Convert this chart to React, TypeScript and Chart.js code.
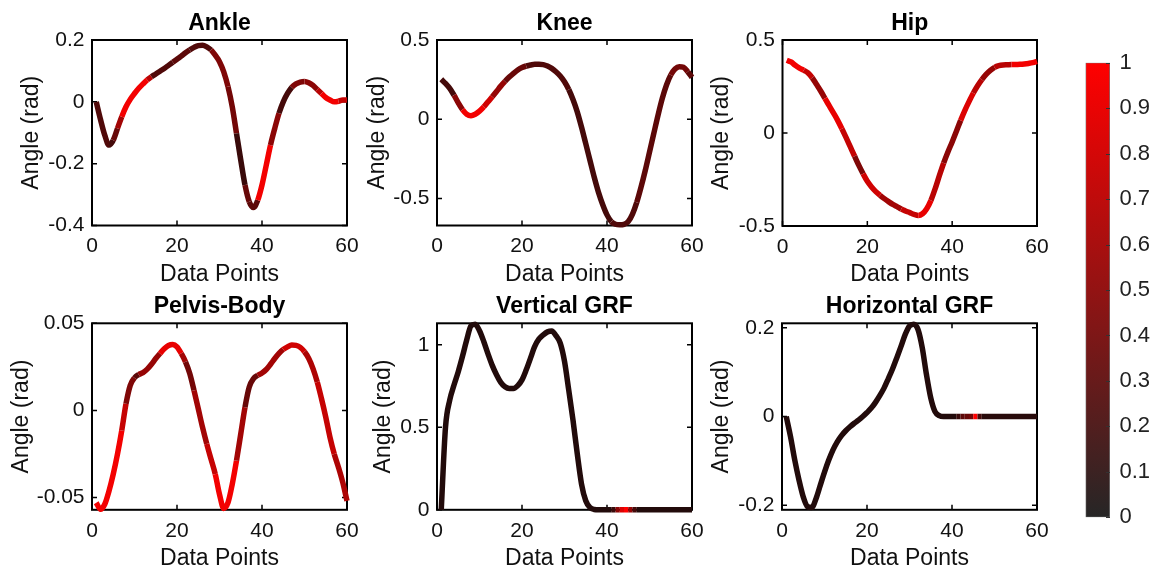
import React, { useEffect, useRef } from "react";
import { Chart, registerables } from "chart.js";

Chart.register(...registerables);

const FONT = "'Liberation Sans', Arial, Helvetica, sans-serif";
Chart.defaults.font.family = FONT;

// ---------- data ----------
const dataPoints = [
  1, 2, 3, 4, 5, 6, 7, 8, 9, 10, 11, 12, 13, 14, 15, 16, 17, 18, 19, 20,
  21, 22, 23, 24, 25, 26, 27, 28, 29, 30, 31, 32, 33, 34, 35, 36, 37, 38, 39, 40,
  41, 42, 43, 44, 45, 46, 47, 48, 49, 50, 51, 52, 53, 54, 55, 56, 57, 58, 59, 60,
];

const xTicks = [0, 20, 40, 60];

const ankleValues = [
  0.0, -0.057, -0.108, -0.14, -0.124, -0.086, -0.048, -0.016, 0.008, 0.027,
  0.044, 0.058, 0.071, 0.081, 0.09, 0.099, 0.108, 0.118, 0.128, 0.138,
  0.148, 0.159, 0.168, 0.176, 0.182, 0.183, 0.178, 0.168, 0.151, 0.13,
  0.097, 0.049, -0.016, -0.102, -0.188, -0.269, -0.323, -0.342, -0.318, -0.269,
  -0.205, -0.14, -0.086, -0.037, 0.0, 0.027, 0.047, 0.058, 0.064, 0.066,
  0.062, 0.053, 0.04, 0.027, 0.014, 0.006, 0.0, 0.002, 0.006, 0.006,
];
const ankleColors = [
  0.25, 0.25, 0.25, 0.2, 0.35, 0.6, 0.95, 0.95, 0.95, 0.95,
  0.95, 0.95, 0.7, 0.25, 0.25, 0.25, 0.25, 0.25, 0.3, 0.3,
  0.3, 0.3, 0.25, 0.25, 0.25, 0.25, 0.25, 0.45, 0.45, 0.45,
  0.45, 0.4, 0.4, 0.15, 0.15, 0.35, 0.3, 0.3, 0.95, 0.95,
  0.95, 0.5, 0.5, 0.2, 0.2, 0.2, 0.45, 0.45, 0.45, 0.5,
  0.5, 0.5, 0.7, 0.95, 0.95, 0.95, 0.95, 0.75, 0.75, 0.75,
];
const ankleTicks = [-0.4, -0.2, 0, 0.2];

const kneeValues = [
  0.252, 0.226, 0.195, 0.152, 0.104, 0.061, 0.032, 0.023, 0.032, 0.051,
  0.078, 0.11, 0.142, 0.175, 0.209, 0.239, 0.266, 0.29, 0.311, 0.326,
  0.336, 0.342, 0.347, 0.347, 0.345, 0.336, 0.321, 0.3, 0.273, 0.237,
  0.188, 0.125, 0.047, -0.049, -0.154, -0.26, -0.366, -0.461, -0.539, -0.603,
  -0.645, -0.662, -0.666, -0.663, -0.645, -0.598, -0.524, -0.429, -0.323, -0.207,
  -0.091, 0.025, 0.131, 0.216, 0.279, 0.317, 0.332, 0.328, 0.3, 0.264,
];
const kneeColors = [
  0.2, 0.2, 0.2, 0.5, 0.5, 0.95, 0.95, 0.95, 0.95, 0.95,
  0.8, 0.8, 0.55, 0.55, 0.55, 0.35, 0.35, 0.35, 0.35, 0.35,
  0.25, 0.25, 0.25, 0.25, 0.25, 0.25, 0.25, 0.25, 0.25, 0.25,
  0.2, 0.2, 0.2, 0.2, 0.2, 0.2, 0.2, 0.2, 0.2, 0.2,
  0.25, 0.25, 0.25, 0.25, 0.25, 0.25, 0.3, 0.3, 0.3, 0.3,
  0.3, 0.3, 0.3, 0.3, 0.4, 0.4, 0.4, 0.4, 0.3, 0.3,
];
const kneeTicks = [-0.5, 0, 0.5];

const hipValues = [
  0.391, 0.382, 0.364, 0.349, 0.337, 0.323, 0.297, 0.262, 0.226, 0.186,
  0.147, 0.108, 0.068, 0.023, -0.025, -0.075, -0.125, -0.174, -0.219, -0.26,
  -0.29, -0.315, -0.335, -0.353, -0.369, -0.384, -0.396, -0.409, -0.419, -0.428,
  -0.437, -0.443, -0.434, -0.407, -0.362, -0.299, -0.228, -0.161, -0.102, -0.048,
  0.009, 0.068, 0.122, 0.17, 0.215, 0.254, 0.287, 0.315, 0.337, 0.353,
  0.362, 0.366, 0.367, 0.368, 0.368, 0.369, 0.371, 0.374, 0.378, 0.385,
];
const hipColors = [
  0.95, 0.95, 0.95, 0.95, 0.75, 0.75, 0.55, 0.55, 0.55, 0.9,
  0.9, 0.9, 0.9, 0.75, 0.75, 0.75, 0.45, 0.45, 0.8, 0.8,
  0.8, 0.8, 0.6, 0.6, 0.6, 0.6, 0.6, 0.75, 0.75, 0.75,
  0.75, 0.9, 0.9, 0.9, 0.7, 0.7, 0.7, 0.5, 0.5, 0.5,
  0.5, 0.85, 0.85, 0.85, 0.7, 0.7, 0.55, 0.55, 0.55, 0.7,
  0.7, 0.7, 0.7, 0.95, 0.95, 0.95, 0.95, 0.95, 0.95, 0.95,
];
const hipTicks = [-0.5, 0, 0.5];

const pelvisValues = [
  -0.0529, -0.0567, -0.0538, -0.0462, -0.0365, -0.025, -0.0115, 0.0038, 0.0144, 0.0187,
  0.0206, 0.0217, 0.0237, 0.0265, 0.0298, 0.0327, 0.0354, 0.0373, 0.0379, 0.0365,
  0.0327, 0.0279, 0.0212, 0.0115, 0.001, -0.0096, -0.0192, -0.0279, -0.0365, -0.0481,
  -0.0562, -0.0529, -0.0423, -0.0288, -0.0135, 0.0019, 0.0135, 0.0183, 0.0202, 0.0215,
  0.0235, 0.0265, 0.0298, 0.0327, 0.035, 0.0365, 0.0375, 0.0373, 0.0362, 0.0337,
  0.0298, 0.024, 0.0163, 0.0067, -0.0038, -0.0154, -0.025, -0.0327, -0.0413, -0.0519,
];
const pelvisColors = [
  0.95, 0.95, 0.95, 0.95, 0.95, 0.95, 0.75, 0.45, 0.45, 0.3,
  0.55, 0.55, 0.55, 0.55, 0.55, 0.9, 0.9, 0.9, 0.9, 0.9,
  0.6, 0.4, 0.4, 0.6, 0.6, 0.6, 0.75, 0.75, 0.95, 0.95,
  0.95, 0.95, 0.95, 0.6, 0.6, 0.35, 0.35, 0.35, 0.6, 0.6,
  0.6, 0.6, 0.6, 0.6, 0.8, 0.8, 0.8, 0.8, 0.8, 0.65,
  0.65, 0.65, 0.75, 0.75, 0.75, 0.75, 0.65, 0.65, 0.65, 0.65,
];
const pelvisTicks = [-0.05, 0, 0.05];

const verticalGrfValues = [
  0.0, 0.5, 0.665, 0.756, 0.837, 0.93, 1.03, 1.115, 1.125, 1.085,
  1.02, 0.945, 0.875, 0.818, 0.772, 0.745, 0.735, 0.735, 0.752, 0.787,
  0.848, 0.919, 0.99, 1.035, 1.06, 1.078, 1.083, 1.055, 1.01, 0.9,
  0.725, 0.543, 0.34, 0.157, 0.055, 0.014, 0.002, 0.0, 0.0, 0.0,
  0.0, 0.0, 0.0, 0.0, 0.0, 0.0, 0.0, 0.0, 0.0, 0.0,
  0.0, 0.0, 0.0, 0.0, 0.0, 0.0, 0.0, 0.0, 0.0, 0.0,
];
const verticalGrfColors = [
  0.05, 0.05, 0.05, 0.05, 0.05, 0.05, 0.05, 0.05, 0.05, 0.05,
  0.05, 0.05, 0.05, 0.05, 0.05, 0.05, 0.05, 0.05, 0.05, 0.05,
  0.05, 0.05, 0.05, 0.05, 0.05, 0.05, 0.05, 0.05, 0.05, 0.05,
  0.05, 0.05, 0.05, 0.05, 0.05, 0.05, 0.05, 0.05, 0.05, 0.05,
  0.15, 0.5, 0.85, 1.0, 0.55, 0.2, 0.05, 0.05, 0.05, 0.05,
  0.05, 0.05, 0.05, 0.05, 0.05, 0.05, 0.05, 0.05, 0.05, 0.05,
];
const verticalGrfTicks = [0, 0.5, 1];

const horizontalGrfValues = [
  0.0, -0.045, -0.098, -0.143, -0.181, -0.203, -0.205, -0.185, -0.155, -0.125,
  -0.098, -0.075, -0.057, -0.043, -0.032, -0.023, -0.015, -0.008, 0.0, 0.009,
  0.019, 0.032, 0.047, 0.064, 0.085, 0.107, 0.132, 0.158, 0.185, 0.204,
  0.208, 0.196, 0.155, 0.094, 0.042, 0.011, 0.002, 0.0, 0.0, 0.0,
  0.0, 0.0, 0.0, 0.0, 0.0, 0.0, 0.0, 0.0, 0.0, 0.0,
  0.0, 0.0, 0.0, 0.0, 0.0, 0.0, 0.0, 0.0, 0.0, 0.0,
];
const horizontalGrfColors = [
  0.05, 0.05, 0.05, 0.05, 0.05, 0.05, 0.05, 0.05, 0.05, 0.05,
  0.05, 0.05, 0.05, 0.05, 0.05, 0.05, 0.05, 0.05, 0.05, 0.05,
  0.05, 0.05, 0.05, 0.05, 0.05, 0.05, 0.05, 0.05, 0.05, 0.05,
  0.05, 0.05, 0.05, 0.05, 0.05, 0.05, 0.05, 0.05, 0.05, 0.05,
  0.15, 0.3, 0.35, 0.4, 1.0, 0.2, 0.08, 0.08, 0.08, 0.08,
  0.08, 0.08, 0.08, 0.08, 0.08, 0.08, 0.08, 0.08, 0.08, 0.08,
];
const horizontalGrfTicks = [-0.2, 0, 0.2];

const colorbarTicks = [0, 0.1, 0.2, 0.3, 0.4, 0.5, 0.6, 0.7, 0.8, 0.9, 1];
const colorbarStops = [0, 1];
const colorbarColors = ["rgb(38,38,38)", "rgb(255,0,0)"];
const lineColorLow = [22, 12, 12];
const lineColorHigh = [255, 0, 0];

// ---------- panels ----------
type PanelSpec = {
  title: string;
  values: number[];
  colors: number[];
  yMin: number;
  yMax: number;
  yTicks: number[];
  plotLeft: number;
  plotTop: number;
  plotWidth: number;
  plotHeight: number;
  yLabelOffset: number;
};

const panels: PanelSpec[] = [
  { title: "Ankle", values: ankleValues, colors: ankleColors, yMin: -0.4, yMax: 0.2, yTicks: ankleTicks,
    plotLeft: 92, plotTop: 40, plotWidth: 255, plotHeight: 185.5, yLabelOffset: 60 },
  { title: "Knee", values: kneeValues, colors: kneeColors, yMin: -0.67, yMax: 0.5, yTicks: kneeTicks,
    plotLeft: 437, plotTop: 40, plotWidth: 255, plotHeight: 185.5, yLabelOffset: 59 },
  { title: "Hip", values: hipValues, colors: hipColors, yMin: -0.5, yMax: 0.5, yTicks: hipTicks,
    plotLeft: 782.5, plotTop: 40, plotWidth: 254.5, plotHeight: 186, yLabelOffset: 60.5 },
  { title: "Pelvis-Body", values: pelvisValues, colors: pelvisColors, yMin: -0.057, yMax: 0.05, yTicks: pelvisTicks,
    plotLeft: 92, plotTop: 323.3, plotWidth: 255, plotHeight: 186.5, yLabelOffset: 70 },
  { title: "Vertical GRF", values: verticalGrfValues, colors: verticalGrfColors, yMin: 0, yMax: 1.13, yTicks: verticalGrfTicks,
    plotLeft: 437, plotTop: 323.3, plotWidth: 255, plotHeight: 186.5, yLabelOffset: 53 },
  { title: "Horizontal GRF", values: horizontalGrfValues, colors: horizontalGrfColors, yMin: -0.21, yMax: 0.21, yTicks: horizontalGrfTicks,
    plotLeft: 782, plotTop: 323.3, plotWidth: 255, plotHeight: 186.5, yLabelOffset: 60 },
];

const Y_AXIS_W = 92;
const TITLE_H = 40;
const X_AXIS_H = 65;
const CANVAS_W = 380;
const CANVAS_H = 292;
const TICK_FONT = 21;
const LABEL_FONT = 23;
const TITLE_FONT = 23;

function fmt(v: number) {
  return String(Number(Number(v).toFixed(4)));
}

function lineColor(c: number) {
  const t = Math.max(0, Math.min(1, c));
  const ch = (i: number) => Math.round(lineColorLow[i] + (lineColorHigh[i] - lineColorLow[i]) * t);
  return `rgb(${ch(0)},${ch(1)},${ch(2)})`;
}

const framePlugin = {
  id: "matlabFrame",
  beforeDatasetsDraw(chart: any) {
    const { ctx, chartArea: a, scales } = chart;
    const x = scales.x;
    const y = scales.y;
    const tl = 5;
    ctx.save();
    ctx.strokeStyle = "#000";
    ctx.lineWidth = 1.5;
    ctx.beginPath();
    x.ticks.forEach((t: any) => {
      const px = x.getPixelForValue(t.value);
      ctx.moveTo(px, a.bottom);
      ctx.lineTo(px, a.bottom - tl);
      ctx.moveTo(px, a.top);
      ctx.lineTo(px, a.top + tl);
    });
    y.ticks.forEach((t: any) => {
      const py = y.getPixelForValue(t.value);
      ctx.moveTo(a.left, py);
      ctx.lineTo(a.left + tl, py);
      ctx.moveTo(a.right, py);
      ctx.lineTo(a.right - tl, py);
    });
    ctx.stroke();
    ctx.lineWidth = 2;
    ctx.strokeRect(a.left, a.top, a.right - a.left, a.bottom - a.top);
    ctx.restore();
  },
};

function Panel({ p }: { p: PanelSpec }) {
  const ref = useRef<HTMLCanvasElement>(null);
  const canvasLeft = Math.floor(p.plotLeft - Y_AXIS_W);
  const canvasTop = Math.floor(p.plotTop - TITLE_H);
  const padL = p.plotLeft - Y_AXIS_W - canvasLeft;
  const padT = p.plotTop - TITLE_H - canvasTop;
  const padR = CANVAS_W - padL - Y_AXIS_W - p.plotWidth;
  const padB = CANVAS_H - padT - TITLE_H - X_AXIS_H - p.plotHeight;

  useEffect(() => {
    const chart = new Chart(ref.current as HTMLCanvasElement, {
      type: "line",
      data: {
        datasets: [
          {
            data: dataPoints.map((x, i) => ({ x, y: p.values[i] })),
            borderWidth: 5.5,
            pointRadius: 0,
            borderColor: lineColor(p.colors[0]),
            borderCapStyle: "butt",
            borderJoinStyle: "round",
            cubicInterpolationMode: "monotone",
            clip: 4,
            segment: {
              borderColor: (ctx: any) => lineColor(p.colors[ctx.p0DataIndex]),
            },
          } as any,
        ],
      },
      options: {
        animation: false,
        responsive: false,
        events: [],
        layout: { padding: { left: padL, top: padT, right: padR, bottom: padB } },
        plugins: {
          legend: { display: false },
          tooltip: { enabled: false },
          title: {
            display: true,
            text: p.title,
            fullSize: false,
            color: "#000",
            font: { size: TITLE_FONT, weight: "bold", lineHeight: 1, family: FONT },
            padding: { top: 12, bottom: TITLE_H - 12 - TITLE_FONT },
          },
        },
        scales: {
          x: {
            type: "linear",
            min: 0,
            max: 60,
            afterBuildTicks: (s: any) => {
              s.ticks = xTicks.map((v) => ({ value: v }));
            },
            afterFit: (s: any) => {
              s.height = X_AXIS_H;
            },
            grid: { display: false, drawTicks: false },
            border: { display: false },
            ticks: {
              padding: 8.4,
              color: "#111",
              maxRotation: 0,
              autoSkip: false,
              font: { size: TICK_FONT, family: FONT },
              callback: (v: any) => fmt(v),
            },
            title: {
              display: true,
              text: "Data Points",
              color: "#111",
              font: { size: LABEL_FONT, lineHeight: 1, family: FONT },
              padding: { top: 0, bottom: X_AXIS_H - 49 - LABEL_FONT / 2 },
            },
          },
          y: {
            type: "linear",
            min: p.yMin,
            max: p.yMax,
            afterBuildTicks: (s: any) => {
              s.ticks = p.yTicks.map((v) => ({ value: v }));
            },
            afterFit: (s: any) => {
              s.width = Y_AXIS_W;
            },
            grid: { display: false, drawTicks: false },
            border: { display: false },
            ticks: {
              padding: 7.5,
              color: "#111",
              autoSkip: false,
              font: { size: TICK_FONT, family: FONT },
              callback: (v: any) => fmt(v),
            },
            title: {
              display: true,
              text: "Angle (rad)",
              color: "#111",
              font: { size: LABEL_FONT, lineHeight: 1, family: FONT },
              padding: { top: Y_AXIS_W - p.yLabelOffset - LABEL_FONT / 2, bottom: 0 },
            },
          },
        },
      } as any,
      plugins: [framePlugin],
    });
    return () => chart.destroy();
  }, []);

  return (
    <canvas
      ref={ref}
      width={CANVAS_W}
      height={CANVAS_H}
      style={{ position: "absolute", left: canvasLeft, top: canvasTop, width: CANVAS_W, height: CANVAS_H }}
    />
  );
}

const colorbarTickPlugin = {
  id: "colorbarTicks",
  afterDraw(chart: any) {
    const { ctx, chartArea: a, scales } = chart;
    const y = scales.y;
    ctx.save();
    ctx.strokeStyle = "#333";
    ctx.lineWidth = 1;
    ctx.beginPath();
    y.ticks.forEach((t: any) => {
      const py = Math.round(y.getPixelForValue(t.value)) + 0.5;
      ctx.moveTo(a.right, py);
      ctx.lineTo(a.right - 4, py);
    });
    ctx.stroke();
    ctx.restore();
  },
};

function Colorbar() {
  const ref = useRef<HTMLCanvasElement>(null);
  useEffect(() => {
    const chart = new Chart(ref.current as HTMLCanvasElement, {
      type: "bar",
      data: {
        labels: ["colorbar"],
        datasets: [
          {
            data: [[colorbarTicks[0], colorbarTicks[colorbarTicks.length - 1]]],
            backgroundColor: (ctx: any) => {
              const ch = ctx.chart;
              const area = ch.chartArea;
              if (!area) return colorbarColors[1];
              const g = ch.ctx.createLinearGradient(0, area.bottom, 0, area.top);
              colorbarStops.forEach((s, i) => g.addColorStop(s, colorbarColors[i]));
              return g;
            },
            borderColor: "#777",
            borderWidth: 1,
            borderSkipped: false,
            barPercentage: 1,
            categoryPercentage: 1,
          } as any,
        ],
      },
      options: {
        animation: false,
        responsive: false,
        events: [],
        layout: { padding: { left: 25.5, top: 21.7, right: 0, bottom: 20 } },
        plugins: { legend: { display: false }, tooltip: { enabled: false } },
        scales: {
          x: { display: false },
          y: {
            position: "right",
            min: 0,
            max: 1,
            afterBuildTicks: (s: any) => {
              s.ticks = colorbarTicks.map((v) => ({ value: v }));
            },
            afterFit: (s: any) => {
              s.width = 43;
            },
            grid: { display: false, drawTicks: false },
            border: { display: false },
            ticks: {
              padding: 9.5,
              color: "#222",
              autoSkip: false,
              font: { size: 22, family: FONT },
              callback: (v: any) => fmt(v),
            },
          },
        },
      } as any,
      plugins: [colorbarTickPlugin],
    });
    return () => chart.destroy();
  }, []);
  return (
    <canvas
      ref={ref}
      width={93}
      height={500}
      style={{ position: "absolute", left: 1060, top: 40, width: 93, height: 500 }}
    />
  );
}

export default function App() {
  return (
    <div
      style={{
        position: "absolute",
        left: 0,
        top: 0,
        width: 1153,
        height: 571,
        background: "#fff",
        overflow: "hidden",
      }}
    >
      {panels.map((p) => (
        <Panel key={p.title} p={p} />
      ))}
      <Colorbar />
    </div>
  );
}
